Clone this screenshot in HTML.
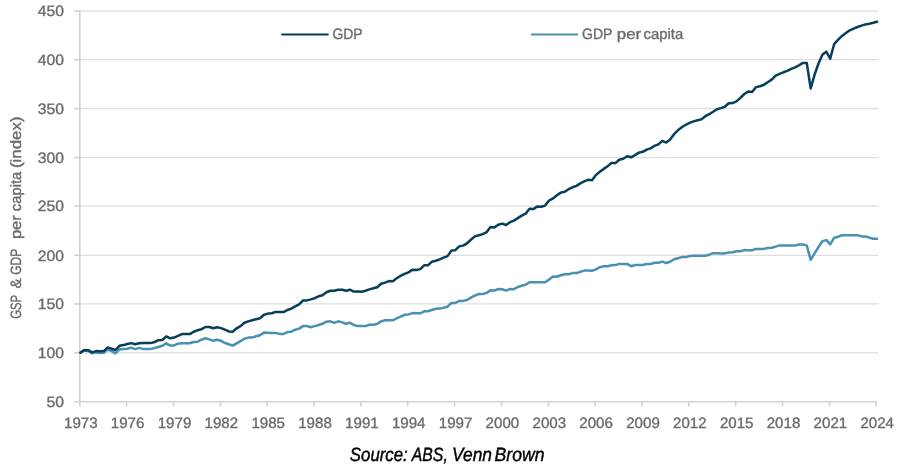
<!DOCTYPE html>
<html><head><meta charset="utf-8"><title>GDP and GDP per capita</title>
<style>
html,body{margin:0;padding:0;background:#fff;}
body{width:900px;height:470px;overflow:hidden;font-family:"Liberation Sans",sans-serif;}
svg{display:block}
.ax text{font-family:"Liberation Sans",sans-serif;font-size:15px;fill:#6a6a6a;stroke:#6a6a6a;stroke-width:0.35px;}
.ax text.n{font-size:15px;}
text{text-rendering:geometricPrecision;}
.src{font-family:"Liberation Sans",sans-serif;font-style:italic;font-size:19.2px;fill:#000;stroke:#000;stroke-width:0.4px;}
</style></head><body>
<svg width="900" height="470" viewBox="0 0 900 470">
<rect width="900" height="470" fill="#fff"/>
<g stroke="#dedede" stroke-width="1.3" fill="none"><line x1="79" x2="878.3" y1="11.1" y2="11.1"/><line x1="79" x2="878.3" y1="59.7" y2="59.7"/><line x1="79" x2="878.3" y1="108.5" y2="108.5"/><line x1="79" x2="878.3" y1="157.6" y2="157.6"/><line x1="79" x2="878.3" y1="206.1" y2="206.1"/><line x1="79" x2="878.3" y1="255.3" y2="255.3"/><line x1="79" x2="878.3" y1="303.9" y2="303.9"/><line x1="79" x2="878.3" y1="352.9" y2="352.9"/></g>
<g stroke="#d2d2d2" stroke-width="1.6" fill="none">
<line x1="74.2" x2="877.2" y1="401.7" y2="401.7"/>
<line x1="79.8" x2="79.8" y1="10.4" y2="402.5"/>
<line x1="79.8" x2="79.8" y1="401.7" y2="406.4"/><line x1="126.6" x2="126.6" y1="401.7" y2="406.4"/><line x1="173.5" x2="173.5" y1="401.7" y2="406.4"/><line x1="220.3" x2="220.3" y1="401.7" y2="406.4"/><line x1="267.2" x2="267.2" y1="401.7" y2="406.4"/><line x1="314.0" x2="314.0" y1="401.7" y2="406.4"/><line x1="360.9" x2="360.9" y1="401.7" y2="406.4"/><line x1="407.7" x2="407.7" y1="401.7" y2="406.4"/><line x1="454.6" x2="454.6" y1="401.7" y2="406.4"/><line x1="501.4" x2="501.4" y1="401.7" y2="406.4"/><line x1="548.3" x2="548.3" y1="401.7" y2="406.4"/><line x1="595.1" x2="595.1" y1="401.7" y2="406.4"/><line x1="642.0" x2="642.0" y1="401.7" y2="406.4"/><line x1="688.8" x2="688.8" y1="401.7" y2="406.4"/><line x1="735.7" x2="735.7" y1="401.7" y2="406.4"/><line x1="782.5" x2="782.5" y1="401.7" y2="406.4"/><line x1="829.4" x2="829.4" y1="401.7" y2="406.4"/><line x1="876.2" x2="876.2" y1="401.7" y2="406.4"/><line x1="74.2" x2="79.8" y1="11.1" y2="11.1"/><line x1="74.2" x2="79.8" y1="59.7" y2="59.7"/><line x1="74.2" x2="79.8" y1="108.5" y2="108.5"/><line x1="74.2" x2="79.8" y1="157.6" y2="157.6"/><line x1="74.2" x2="79.8" y1="206.1" y2="206.1"/><line x1="74.2" x2="79.8" y1="255.3" y2="255.3"/><line x1="74.2" x2="79.8" y1="303.9" y2="303.9"/><line x1="74.2" x2="79.8" y1="352.9" y2="352.9"/>
</g>
<g class="ax"><text class="n" x="63.9" y="16.4" text-anchor="end" textLength="26.2" lengthAdjust="spacingAndGlyphs">450</text><text class="n" x="63.9" y="65.0" text-anchor="end" textLength="26.2" lengthAdjust="spacingAndGlyphs">400</text><text class="n" x="63.9" y="113.8" text-anchor="end" textLength="26.2" lengthAdjust="spacingAndGlyphs">350</text><text class="n" x="63.9" y="162.9" text-anchor="end" textLength="26.2" lengthAdjust="spacingAndGlyphs">300</text><text class="n" x="63.9" y="211.4" text-anchor="end" textLength="26.2" lengthAdjust="spacingAndGlyphs">250</text><text class="n" x="63.9" y="260.6" text-anchor="end" textLength="26.2" lengthAdjust="spacingAndGlyphs">200</text><text class="n" x="63.9" y="309.2" text-anchor="end" textLength="26.2" lengthAdjust="spacingAndGlyphs">150</text><text class="n" x="63.9" y="358.2" text-anchor="end" textLength="26.2" lengthAdjust="spacingAndGlyphs">100</text><text class="n" x="63.9" y="407.0" text-anchor="end" textLength="17.5" lengthAdjust="spacingAndGlyphs">50</text><text class="n" x="80.8" y="428.3" text-anchor="middle" textLength="33.6" lengthAdjust="spacingAndGlyphs">1973</text><text class="n" x="127.6" y="428.3" text-anchor="middle" textLength="33.6" lengthAdjust="spacingAndGlyphs">1976</text><text class="n" x="174.5" y="428.3" text-anchor="middle" textLength="33.6" lengthAdjust="spacingAndGlyphs">1979</text><text class="n" x="221.3" y="428.3" text-anchor="middle" textLength="33.6" lengthAdjust="spacingAndGlyphs">1982</text><text class="n" x="268.2" y="428.3" text-anchor="middle" textLength="33.6" lengthAdjust="spacingAndGlyphs">1985</text><text class="n" x="315.0" y="428.3" text-anchor="middle" textLength="33.6" lengthAdjust="spacingAndGlyphs">1988</text><text class="n" x="361.9" y="428.3" text-anchor="middle" textLength="33.6" lengthAdjust="spacingAndGlyphs">1991</text><text class="n" x="408.7" y="428.3" text-anchor="middle" textLength="33.6" lengthAdjust="spacingAndGlyphs">1994</text><text class="n" x="455.6" y="428.3" text-anchor="middle" textLength="33.6" lengthAdjust="spacingAndGlyphs">1997</text><text class="n" x="502.4" y="428.3" text-anchor="middle" textLength="33.6" lengthAdjust="spacingAndGlyphs">2000</text><text class="n" x="549.3" y="428.3" text-anchor="middle" textLength="33.6" lengthAdjust="spacingAndGlyphs">2003</text><text class="n" x="596.1" y="428.3" text-anchor="middle" textLength="33.6" lengthAdjust="spacingAndGlyphs">2006</text><text class="n" x="643.0" y="428.3" text-anchor="middle" textLength="33.6" lengthAdjust="spacingAndGlyphs">2009</text><text class="n" x="689.8" y="428.3" text-anchor="middle" textLength="33.6" lengthAdjust="spacingAndGlyphs">2012</text><text class="n" x="736.7" y="428.3" text-anchor="middle" textLength="33.6" lengthAdjust="spacingAndGlyphs">2015</text><text class="n" x="783.5" y="428.3" text-anchor="middle" textLength="33.6" lengthAdjust="spacingAndGlyphs">2018</text><text class="n" x="830.4" y="428.3" text-anchor="middle" textLength="33.6" lengthAdjust="spacingAndGlyphs">2021</text><text class="n" x="877.2" y="428.3" text-anchor="middle" textLength="33.6" lengthAdjust="spacingAndGlyphs">2024</text>
<text x="332.4" y="39.2" textLength="30.2" lengthAdjust="spacingAndGlyphs">GDP</text>
<text y="39.2" xml:space="preserve"><tspan x="582" textLength="30.4" lengthAdjust="spacingAndGlyphs">GDP</tspan><tspan x="612.6" textLength="4" lengthAdjust="spacingAndGlyphs"> </tspan><tspan x="616.8" textLength="24.4" lengthAdjust="spacingAndGlyphs">per</tspan><tspan x="641" textLength="3" lengthAdjust="spacingAndGlyphs"> </tspan><tspan x="643.6" textLength="39.6" lengthAdjust="spacingAndGlyphs">capita</tspan></text>
<text transform="translate(20.7,318) rotate(-90)" xml:space="preserve"><tspan x="-0.8" textLength="24" lengthAdjust="spacingAndGlyphs">GSP</tspan><tspan x="24" textLength="5" lengthAdjust="spacingAndGlyphs"> </tspan><tspan x="29.4" textLength="10" lengthAdjust="spacingAndGlyphs">&amp;</tspan><tspan x="39.5" textLength="4" lengthAdjust="spacingAndGlyphs"> </tspan><tspan x="43.2" textLength="26" lengthAdjust="spacingAndGlyphs">GDP</tspan><tspan x="70" textLength="8" lengthAdjust="spacingAndGlyphs"> </tspan><tspan x="78.9" textLength="24" lengthAdjust="spacingAndGlyphs">per</tspan><tspan x="103" textLength="4" lengthAdjust="spacingAndGlyphs"> </tspan><tspan x="106.8" textLength="39.5" lengthAdjust="spacingAndGlyphs">capita</tspan><tspan x="146.5" textLength="4" lengthAdjust="spacingAndGlyphs"> </tspan><tspan x="150" textLength="51.5" lengthAdjust="spacingAndGlyphs">(index)</tspan></text>
</g>
<line x1="282.2" x2="327.8" y1="34.5" y2="34.5" stroke="#063f5a" stroke-width="2.2" stroke-linecap="round"/>
<line x1="532" x2="577.2" y1="34.5" y2="34.5" stroke="#4a90b2" stroke-width="2.2" stroke-linecap="round"/>
<path d="M80.4,352.8 L84.3,350.4 L88.2,350.9 L92.1,353.3 L96.0,352.2 L99.9,353.1 L103.8,352.7 L107.7,349.6 L111.6,351.1 L115.5,353.3 L119.5,349.4 L123.4,348.9 L127.3,348.7 L131.2,347.6 L135.1,349.1 L139.0,347.9 L142.9,348.9 L146.8,349.1 L150.7,349.1 L154.6,348.0 L158.5,347.0 L162.4,345.8 L166.3,343.3 L170.2,345.6 L174.1,345.4 L178.0,343.7 L181.9,343.3 L185.8,343.3 L189.8,343.3 L193.7,342.0 L197.6,341.7 L201.5,339.7 L205.4,338.3 L209.3,339.4 L213.2,340.8 L217.1,339.7 L221.0,340.8 L224.9,343.0 L228.8,344.2 L232.7,345.6 L236.6,343.3 L240.5,341.1 L244.4,338.7 L248.3,337.6 L252.2,337.4 L256.1,336.3 L260.0,335.2 L264.0,332.6 L267.9,332.8 L271.8,333.0 L275.7,333.0 L279.6,333.9 L283.5,333.9 L287.4,332.1 L291.3,331.7 L295.2,329.7 L299.1,328.6 L303.0,326.1 L306.9,326.0 L310.8,327.2 L314.7,326.1 L318.6,325.0 L322.5,323.8 L326.4,321.7 L330.3,321.3 L334.3,322.8 L338.2,321.3 L342.1,322.4 L346.0,323.8 L349.9,322.7 L353.8,325.0 L357.7,326.1 L361.6,326.1 L365.5,326.1 L369.4,324.8 L373.3,324.8 L377.2,323.9 L381.1,321.4 L385.0,320.2 L388.9,320.2 L392.8,320.3 L396.7,318.3 L400.6,316.7 L404.5,314.8 L408.5,314.4 L412.4,313.1 L416.3,313.3 L420.2,313.3 L424.1,311.3 L428.0,311.3 L431.9,310.0 L435.8,308.7 L439.7,308.6 L443.6,307.8 L447.5,306.7 L451.4,303.0 L455.3,303.0 L459.2,300.8 L463.1,300.9 L467.0,300.0 L470.9,297.6 L474.8,295.6 L478.8,294.0 L482.7,294.0 L486.6,292.9 L490.5,290.3 L494.4,290.6 L498.3,289.0 L502.2,289.2 L506.1,290.6 L510.0,289.0 L513.9,289.2 L517.8,287.0 L521.7,285.7 L525.6,284.8 L529.5,282.2 L533.4,282.2 L537.3,282.2 L541.2,282.2 L545.1,282.2 L549.0,279.6 L553.0,276.6 L556.9,276.7 L560.8,275.3 L564.7,274.2 L568.6,274.2 L572.5,273.1 L576.4,273.1 L580.3,271.7 L584.2,270.6 L588.1,270.6 L592.0,270.8 L595.9,269.4 L599.8,267.2 L603.7,266.3 L607.6,266.3 L611.5,265.3 L615.4,265.1 L619.3,263.9 L623.2,263.9 L627.2,263.9 L631.1,266.3 L635.0,265.0 L638.9,265.0 L642.8,265.0 L646.7,264.0 L650.6,264.0 L654.5,262.7 L658.4,262.7 L662.3,261.6 L666.2,263.0 L670.1,261.8 L674.0,259.3 L677.9,258.2 L681.8,257.1 L685.7,257.1 L689.6,256.0 L693.5,255.8 L697.5,255.8 L701.4,255.8 L705.3,255.8 L709.2,254.7 L713.1,253.2 L717.0,253.2 L720.9,253.4 L724.8,253.4 L728.7,252.4 L732.6,252.3 L736.5,251.2 L740.4,251.2 L744.3,250.1 L748.2,250.2 L752.1,250.2 L756.0,248.9 L759.9,248.9 L763.8,248.9 L767.7,248.0 L771.7,247.8 L775.6,246.6 L779.5,245.4 L783.4,245.4 L787.3,245.4 L791.2,245.4 L795.1,245.5 L799.0,244.5 L802.9,244.4 L806.8,245.6 L810.7,259.8 L814.6,253.4 L818.5,247.0 L822.4,241.1 L826.3,240.1 L830.2,244.4 L834.1,237.9 L838.0,236.7 L842.0,235.3 L845.9,235.3 L849.8,235.3 L853.7,235.3 L857.6,235.3 L861.5,236.4 L865.4,236.4 L869.3,237.6 L873.2,238.8 L877.1,238.8" fill="none" stroke="#4a90b2" stroke-width="2.5" stroke-linejoin="round" stroke-linecap="round"/>
<path d="M80.4,352.6 L84.3,350.0 L88.2,350.2 L92.1,352.4 L96.0,351.1 L99.9,351.3 L103.8,351.1 L107.7,347.4 L111.6,348.7 L115.5,350.0 L119.5,345.8 L123.4,345.1 L127.3,344.0 L131.2,343.1 L135.1,344.2 L139.0,343.3 L142.9,343.0 L146.8,343.1 L150.7,343.1 L154.6,342.0 L158.5,340.2 L162.4,340.0 L166.3,336.4 L170.2,338.3 L174.1,337.6 L178.0,335.9 L181.9,334.1 L185.8,333.9 L189.8,334.1 L193.7,331.7 L197.6,330.3 L201.5,329.2 L205.4,327.0 L209.3,327.0 L213.2,328.3 L217.1,327.2 L221.0,328.1 L224.9,329.7 L228.8,331.4 L232.7,331.7 L236.6,328.3 L240.5,326.1 L244.4,322.8 L248.3,321.4 L252.2,320.3 L256.1,319.2 L260.0,318.3 L264.0,314.8 L267.9,313.6 L271.8,313.3 L275.7,311.9 L279.6,312.1 L283.5,312.1 L287.4,310.0 L291.3,308.6 L295.2,306.3 L299.1,304.4 L303.0,300.4 L306.9,300.4 L310.8,299.4 L314.7,298.2 L318.6,296.3 L322.5,295.2 L326.4,292.2 L330.3,290.8 L334.3,290.8 L338.2,289.7 L342.1,289.7 L346.0,290.8 L349.9,289.7 L353.8,291.6 L357.7,291.6 L361.6,291.7 L365.5,290.7 L369.4,289.4 L373.3,288.3 L377.2,287.2 L381.1,283.7 L385.0,282.6 L388.9,281.1 L392.8,281.3 L396.7,278.3 L400.6,275.9 L404.5,273.9 L408.5,272.4 L412.4,269.8 L416.3,270.0 L420.2,269.1 L424.1,265.3 L428.0,265.3 L431.9,261.7 L435.8,260.8 L439.7,259.4 L443.6,257.6 L447.5,256.1 L451.4,250.6 L455.3,250.2 L459.2,246.4 L463.1,245.6 L467.0,243.3 L470.9,239.8 L474.8,236.4 L478.8,235.3 L482.7,234.1 L486.6,232.2 L490.5,227.0 L494.4,227.4 L498.3,224.7 L502.2,223.6 L506.1,225.0 L510.0,222.2 L513.9,220.6 L517.8,218.1 L521.7,215.6 L525.6,213.7 L529.5,208.7 L533.4,209.1 L537.3,206.4 L541.2,206.7 L545.1,205.6 L549.0,200.6 L553.0,198.4 L556.9,195.3 L560.8,192.6 L564.7,191.8 L568.6,189.2 L572.5,187.3 L576.4,185.9 L580.3,183.4 L584.2,181.4 L588.1,179.8 L592.0,180.3 L595.9,175.1 L599.8,171.8 L603.7,168.9 L607.6,166.2 L611.5,163.1 L615.4,163.1 L619.3,159.8 L623.2,158.7 L627.2,156.2 L631.1,157.3 L635.0,155.1 L638.9,152.6 L642.8,151.8 L646.7,149.6 L650.6,148.4 L654.5,145.9 L658.4,144.4 L662.3,140.9 L666.2,142.6 L670.1,139.6 L674.0,134.2 L677.9,130.3 L681.8,127.3 L685.7,124.8 L689.6,122.9 L693.5,121.4 L697.5,120.3 L701.4,119.4 L705.3,116.2 L709.2,114.2 L713.1,111.8 L717.0,109.2 L720.9,108.1 L724.8,106.8 L728.7,103.3 L732.6,103.1 L736.5,101.4 L740.4,97.9 L744.3,94.0 L748.2,91.6 L752.1,92.0 L756.0,87.1 L759.9,86.2 L763.8,84.9 L767.7,82.3 L771.7,79.6 L775.6,75.7 L779.5,73.8 L783.4,72.3 L787.3,70.9 L791.2,68.8 L795.1,67.3 L799.0,65.3 L802.9,62.9 L806.8,63.1 L810.7,88.5 L814.6,74.6 L818.5,63.5 L822.4,54.8 L826.3,51.6 L830.2,58.7 L834.1,44.2 L838.0,39.8 L842.0,35.9 L845.9,33.1 L849.8,30.3 L853.7,28.7 L857.6,27.0 L861.5,25.6 L865.4,24.4 L869.3,23.7 L873.2,22.8 L877.1,21.8" fill="none" stroke="#063f5a" stroke-width="2.5" stroke-linejoin="round" stroke-linecap="round"/>
<text class="src" y="460.9" xml:space="preserve"><tspan x="349.8" textLength="58" lengthAdjust="spacingAndGlyphs">Source:</tspan><tspan x="407.8" textLength="4" lengthAdjust="spacingAndGlyphs"> </tspan><tspan x="411.8" textLength="36" lengthAdjust="spacingAndGlyphs">ABS,</tspan><tspan x="447.8" textLength="4" lengthAdjust="spacingAndGlyphs"> </tspan><tspan x="452" textLength="40" lengthAdjust="spacingAndGlyphs">Venn</tspan><tspan x="492" textLength="3" lengthAdjust="spacingAndGlyphs"> </tspan><tspan x="494.6" textLength="50" lengthAdjust="spacingAndGlyphs">Brown</tspan></text>
</svg>
</body></html>
